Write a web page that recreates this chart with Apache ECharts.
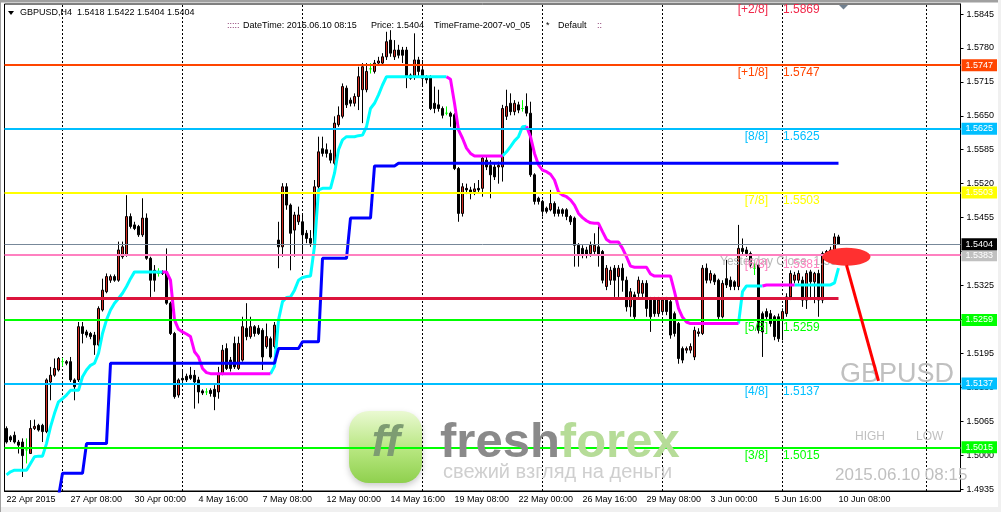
<!DOCTYPE html>
<html>
<head>
<meta charset="utf-8">
<title>GBPUSD,H4</title>
<script src="https://cdn.jsdelivr.net/npm/echarts@6/dist/echarts.min.js"></script>
<style>
  html, body { margin: 0; padding: 0; background: #fff; }
  #chart { width: 1001px; height: 512px; }
</style>
</head>
<body>
<div id="chart"></div>
<script>
// GBPUSD H4, 22 Apr 2015 - 10 Jun 2015
const timeLabels = ['22 Apr 2015', '27 Apr 08:00', '30 Apr 00:00', '4 May 16:00', '7 May 08:00', '12 May 00:00',
  '14 May 16:00', '19 May 08:00', '22 May 00:00', '26 May 16:00', '29 May 08:00', '3 Jun 00:00', '5 Jun 16:00', '10 Jun 08:00']
const labelEvery = 16
const slotCount = 239 // bars + empty chart shift on the right
const lastBar = 208

// open, close, low, high
const candles = [
  [1.5051, 1.5025, 1.5022, 1.5055], [1.5035, 1.5029, 1.5025, 1.5038], [1.5038, 1.5025, 1.5022, 1.5045], [1.5025, 1.5019, 1.5003, 1.5029],
  [1.5025, 1.4999, 1.4958, 1.5032], [1.5010, 1.5010, 1.4984, 1.5032], [1.5003, 1.5051, 1.5003, 1.5067], [1.5051, 1.5055, 1.5048, 1.5068],
  [1.5057, 1.5048, 1.5045, 1.5060], [1.5057, 1.5045, 1.5025, 1.5060], [1.5045, 1.5144, 1.5042, 1.5147], [1.5140, 1.5153, 1.5105, 1.5169],
  [1.5153, 1.5166, 1.5150, 1.5185], [1.5163, 1.5185, 1.5160, 1.5188], [1.5179, 1.5179, 1.5170, 1.5186], [1.5179, 1.5176, 1.5172, 1.5182],
  [1.5179, 1.5144, 1.5140, 1.5188], [1.5144, 1.5131, 1.5105, 1.5147], [1.5144, 1.5246, 1.5140, 1.5255], [1.5246, 1.5233, 1.5214, 1.5255],
  [1.5236, 1.5230, 1.5225, 1.5240], [1.5233, 1.5227, 1.5222, 1.5236], [1.5230, 1.5211, 1.5192, 1.5236], [1.5211, 1.5281, 1.5208, 1.5285],
  [1.5278, 1.5316, 1.5275, 1.5338], [1.5313, 1.5342, 1.5310, 1.5348], [1.5335, 1.5342, 1.5330, 1.5346], [1.5342, 1.5335, 1.5332, 1.5346],
  [1.5335, 1.5393, 1.5332, 1.5409], [1.5380, 1.5399, 1.5376, 1.5409], [1.5383, 1.5457, 1.5380, 1.5498], [1.5457, 1.5438, 1.5434, 1.5463],
  [1.5441, 1.5434, 1.5431, 1.5447], [1.5438, 1.5422, 1.5418, 1.5441], [1.5422, 1.5454, 1.5418, 1.5492], [1.5454, 1.5377, 1.5374, 1.5463],
  [1.5377, 1.5335, 1.5303, 1.5380], [1.5354, 1.5335, 1.5313, 1.5364], [1.5348, 1.5348, 1.5342, 1.5358], [1.5351, 1.5348, 1.5345, 1.5354],
  [1.5351, 1.5291, 1.5288, 1.5396], [1.5291, 1.5233, 1.5230, 1.5294], [1.5233, 1.5112, 1.5108, 1.5236], [1.5115, 1.5144, 1.5110, 1.5147],
  [1.5147, 1.5144, 1.5140, 1.5163], [1.5151, 1.5144, 1.5140, 1.5156], [1.5153, 1.5147, 1.5144, 1.5169], [1.5153, 1.5140, 1.5089, 1.5163],
  [1.5144, 1.5121, 1.5099, 1.5150], [1.5123, 1.5119, 1.5115, 1.5126], [1.5121, 1.5121, 1.5115, 1.5128], [1.5124, 1.5118, 1.5112, 1.5128],
  [1.5126, 1.5112, 1.5086, 1.5134], [1.5121, 1.5156, 1.5108, 1.5169], [1.5156, 1.5201, 1.5153, 1.5211], [1.5204, 1.5166, 1.5163, 1.5214],
  [1.5182, 1.5166, 1.5160, 1.5188], [1.5214, 1.5169, 1.5165, 1.5227], [1.5166, 1.5214, 1.5163, 1.5227], [1.5182, 1.5246, 1.5179, 1.5265],
  [1.5243, 1.5227, 1.5220, 1.5291], [1.5227, 1.5246, 1.5223, 1.5265], [1.5246, 1.5233, 1.5227, 1.5249], [1.5243, 1.5233, 1.5230, 1.5249],
  [1.5239, 1.5188, 1.5163, 1.5243], [1.5208, 1.5227, 1.5204, 1.5252], [1.5223, 1.5188, 1.5185, 1.5227], [1.5208, 1.5249, 1.5204, 1.5255],
  [1.5412, 1.5399, 1.5358, 1.5447], [1.5399, 1.5514, 1.5380, 1.5521], [1.5514, 1.5479, 1.5470, 1.5521], [1.5479, 1.5425, 1.5354, 1.5482],
  [1.5431, 1.5460, 1.5380, 1.5466], [1.5447, 1.5460, 1.5441, 1.5476], [1.5447, 1.5422, 1.5380, 1.5463], [1.5425, 1.5415, 1.5406, 1.5431],
  [1.5415, 1.5406, 1.5399, 1.5431], [1.5406, 1.5514, 1.5393, 1.5527], [1.5514, 1.5581, 1.5508, 1.5610], [1.5587, 1.5578, 1.5572, 1.5610],
  [1.5585, 1.5578, 1.5570, 1.5597], [1.5578, 1.5565, 1.5559, 1.5585], [1.5559, 1.5636, 1.5555, 1.5649], [1.5633, 1.5651, 1.5629, 1.5668],
  [1.5649, 1.5706, 1.5645, 1.5712], [1.5703, 1.5671, 1.5665, 1.5708], [1.5680, 1.5674, 1.5668, 1.5685], [1.5674, 1.5687, 1.5668, 1.5693],
  [1.5687, 1.5725, 1.5661, 1.5744], [1.5700, 1.5744, 1.5636, 1.5751], [1.5700, 1.5735, 1.5695, 1.5751], [1.5740, 1.5740, 1.5731, 1.5751],
  [1.5735, 1.5751, 1.5731, 1.5757], [1.5751, 1.5755, 1.5747, 1.5763], [1.5751, 1.5763, 1.5747, 1.5770], [1.5763, 1.5792, 1.5757, 1.5811],
  [1.5795, 1.5770, 1.5763, 1.5814], [1.5763, 1.5776, 1.5757, 1.5795], [1.5776, 1.5766, 1.5760, 1.5786], [1.5776, 1.5766, 1.5751, 1.5782],
  [1.5776, 1.5725, 1.5703, 1.5782], [1.5728, 1.5722, 1.5719, 1.5731], [1.5725, 1.5757, 1.5719, 1.5808], [1.5757, 1.5735, 1.5725, 1.5763],
  [1.5738, 1.5722, 1.5706, 1.5757], [1.5725, 1.5719, 1.5712, 1.5728], [1.5725, 1.5664, 1.5661, 1.5728], [1.5674, 1.5664, 1.5655, 1.5706],
  [1.5671, 1.5664, 1.5658, 1.5700], [1.5664, 1.5651, 1.5645, 1.5668], [1.5655, 1.5655, 1.5651, 1.5668], [1.5655, 1.5649, 1.5629, 1.5658],
  [1.5652, 1.5549, 1.5546, 1.5655], [1.5549, 1.5463, 1.5447, 1.5552], [1.5463, 1.5514, 1.5457, 1.5521], [1.5511, 1.5508, 1.5500, 1.5520],
  [1.5508, 1.5501, 1.5490, 1.5514], [1.5505, 1.5510, 1.5498, 1.5521], [1.5511, 1.5508, 1.5501, 1.5527], [1.5511, 1.5569, 1.5495, 1.5572],
  [1.5565, 1.5552, 1.5546, 1.5572], [1.5555, 1.5537, 1.5492, 1.5565], [1.5552, 1.5533, 1.5527, 1.5559], [1.5552, 1.5555, 1.5520, 1.5562],
  [1.5552, 1.5664, 1.5524, 1.5671], [1.5649, 1.5668, 1.5642, 1.5700], [1.5674, 1.5658, 1.5651, 1.5693], [1.5658, 1.5674, 1.5651, 1.5680],
  [1.5671, 1.5661, 1.5655, 1.5677], [1.5664, 1.5664, 1.5658, 1.5680], [1.5668, 1.5655, 1.5649, 1.5693], [1.5655, 1.5537, 1.5533, 1.5677],
  [1.5537, 1.5486, 1.5480, 1.5540], [1.5492, 1.5486, 1.5480, 1.5495], [1.5486, 1.5467, 1.5457, 1.5489], [1.5473, 1.5467, 1.5463, 1.5476],
  [1.5470, 1.5482, 1.5467, 1.5508], [1.5482, 1.5463, 1.5457, 1.5486], [1.5470, 1.5463, 1.5457, 1.5476], [1.5470, 1.5463, 1.5457, 1.5473],
  [1.5470, 1.5457, 1.5450, 1.5473], [1.5457, 1.5447, 1.5441, 1.5460], [1.5454, 1.5402, 1.5361, 1.5457], [1.5402, 1.5383, 1.5361, 1.5406],
  [1.5396, 1.5383, 1.5377, 1.5402], [1.5393, 1.5383, 1.5377, 1.5399], [1.5386, 1.5402, 1.5380, 1.5409], [1.5390, 1.5402, 1.5383, 1.5425],
  [1.5399, 1.5383, 1.5361, 1.5438], [1.5390, 1.5335, 1.5329, 1.5393], [1.5323, 1.5358, 1.5316, 1.5364], [1.5335, 1.5354, 1.5326, 1.5361],
  [1.5358, 1.5335, 1.5303, 1.5364], [1.5342, 1.5358, 1.5303, 1.5364], [1.5358, 1.5335, 1.5313, 1.5367], [1.5335, 1.5284, 1.5275, 1.5342],
  [1.5284, 1.5313, 1.5265, 1.5320], [1.5307, 1.5265, 1.5259, 1.5313], [1.5310, 1.5335, 1.5303, 1.5342], [1.5310, 1.5329, 1.5303, 1.5335],
  [1.5329, 1.5281, 1.5265, 1.5335], [1.5297, 1.5265, 1.5236, 1.5303], [1.5297, 1.5271, 1.5265, 1.5303], [1.5271, 1.5297, 1.5265, 1.5303],
  [1.5275, 1.5297, 1.5268, 1.5303], [1.5297, 1.5275, 1.5268, 1.5303], [1.5294, 1.5230, 1.5223, 1.5300], [1.5271, 1.5233, 1.5227, 1.5275],
  [1.5252, 1.5185, 1.5175, 1.5255], [1.5204, 1.5182, 1.5176, 1.5208], [1.5201, 1.5204, 1.5195, 1.5208], [1.5201, 1.5208, 1.5195, 1.5214],
  [1.5188, 1.5239, 1.5182, 1.5246], [1.5233, 1.5236, 1.5227, 1.5243], [1.5233, 1.5358, 1.5230, 1.5364], [1.5358, 1.5335, 1.5329, 1.5367],
  [1.5335, 1.5348, 1.5329, 1.5354], [1.5345, 1.5332, 1.5326, 1.5348], [1.5335, 1.5265, 1.5259, 1.5338], [1.5265, 1.5329, 1.5262, 1.5335],
  [1.5338, 1.5326, 1.5320, 1.5374], [1.5335, 1.5323, 1.5316, 1.5342], [1.5332, 1.5323, 1.5316, 1.5335], [1.5323, 1.5396, 1.5316, 1.5441],
  [1.5396, 1.5390, 1.5383, 1.5415], [1.5393, 1.5386, 1.5380, 1.5399], [1.5386, 1.5364, 1.5358, 1.5390], [1.5358, 1.5358, 1.5345, 1.5370],
  [1.5364, 1.5239, 1.5233, 1.5367], [1.5271, 1.5236, 1.5188, 1.5275], [1.5275, 1.5265, 1.5259, 1.5281], [1.5271, 1.5252, 1.5246, 1.5278],
  [1.5265, 1.5227, 1.5220, 1.5268], [1.5265, 1.5223, 1.5217, 1.5271], [1.5259, 1.5275, 1.5220, 1.5281], [1.5271, 1.5303, 1.5265, 1.5310],
  [1.5303, 1.5348, 1.5297, 1.5354], [1.5335, 1.5345, 1.5329, 1.5351], [1.5335, 1.5348, 1.5329, 1.5354], [1.5335, 1.5297, 1.5284, 1.5342],
  [1.5297, 1.5348, 1.5280, 1.5354], [1.5351, 1.5332, 1.5297, 1.5355], [1.5332, 1.5348, 1.5291, 1.5351], [1.5348, 1.5297, 1.5265, 1.5355],
  [1.5297, 1.5386, 1.5291, 1.5390], [1.5390, 1.5383, 1.5377, 1.5393], [1.5383, 1.5393, 1.5380, 1.5399], [1.5393, 1.5418, 1.5390, 1.5425],
  [1.5418, 1.5404, 1.5404, 1.5422]
]

// trailing stop: [first bar, values]
const upRuns = [
  [0, [1.4962, 1.4968, 1.4971, 1.4971, 1.4971, 1.4971, 1.4984, 1.4997, 1.4998, 1.4998, 1.5022, 1.5054, 1.5080, 1.5102,
    1.5108, 1.5115, 1.5124, 1.5124, 1.5124, 1.5150, 1.5163, 1.5172, 1.5176, 1.5195, 1.5233, 1.5259, 1.5278, 1.5291,
    1.5300, 1.5310, 1.5323, 1.5338, 1.5351, 1.5351, 1.5351, 1.5351, 1.5351, 1.5351, 1.5351, 1.5351]],
  [66, [1.5156, 1.5170, 1.5259, 1.5294, 1.5302, 1.5303, 1.5316, 1.5335, 1.5340, 1.5342, 1.5343, 1.5400, 1.5508, 1.5511,
    1.5511, 1.5511, 1.5540, 1.5585, 1.5604, 1.5610, 1.5610, 1.5610, 1.5612, 1.5613, 1.5629, 1.5664, 1.5674, 1.5690,
    1.5709, 1.5725, 1.5725, 1.5725, 1.5725, 1.5725, 1.5725, 1.5725, 1.5725, 1.5725, 1.5725, 1.5725, 1.5725, 1.5725,
    1.5725, 1.5725, 1.5725]],
  [124, [1.5573, 1.5581, 1.5591, 1.5602, 1.5610, 1.5629, 1.5630]],
  [183, [1.5252, 1.5313, 1.5324, 1.5324, 1.5324, 1.5324, 1.5324]],
  [197, [1.5326, 1.5326, 1.5326, 1.5326, 1.5326, 1.5326, 1.5326, 1.5326, 1.5326, 1.5326, 1.5330, 1.5358]]
]
const downRuns = [
  [39, [1.5351, 1.5351, 1.5335, 1.5259, 1.5241, 1.5236, 1.5232, 1.5227, 1.5198, 1.5188, 1.5166, 1.5158,
    1.5156, 1.5156, 1.5156, 1.5156, 1.5156, 1.5156, 1.5156, 1.5156, 1.5156, 1.5156, 1.5156, 1.5156, 1.5156,
    1.5156, 1.5156, 1.5156]],
  [110, [1.5725, 1.5720, 1.5674, 1.5623, 1.5607, 1.5588, 1.5578, 1.5573, 1.5573, 1.5573, 1.5573, 1.5573, 1.5573,
    1.5573, 1.5573]],
  [130, [1.5630, 1.5610, 1.5578, 1.5556, 1.5546, 1.5543, 1.5538, 1.5527, 1.5504, 1.5498, 1.5495, 1.5489, 1.5479,
    1.5463, 1.5455, 1.5449, 1.5445, 1.5444, 1.5444, 1.5428, 1.5413, 1.5408, 1.5408, 1.5408, 1.5396, 1.5380, 1.5362,
    1.5360, 1.5360, 1.5360, 1.5360, 1.5347, 1.5343, 1.5343, 1.5343, 1.5343, 1.5343, 1.5313, 1.5281, 1.5264, 1.5255,
    1.5252, 1.5252, 1.5252, 1.5252, 1.5252, 1.5252, 1.5252, 1.5252, 1.5252, 1.5252, 1.5252, 1.5252, 1.5252]],
  [189, [1.5324, 1.5326, 1.5326, 1.5326, 1.5326, 1.5326, 1.5326, 1.5326, 1.5326]]
]
// blue step line: [bar where level starts, level]
const blueSteps = [[13, 1.4920], [14, 1.4965], [20, 1.5022], [26, 1.5176], [68, 1.5204], [74, 1.5217],
  [79, 1.5377], [86, 1.5454], [92, 1.5554], [98, 1.5559]]

const yTicks = [1.4935, 1.5000, 1.5065, 1.5130, 1.5195, 1.5260, 1.5325, 1.5390, 1.5455, 1.5520, 1.5585, 1.5650, 1.5715, 1.5780, 1.5845]
const yMin = 1.49312
const yMax = 1.58642

const gridBars = [14, 44, 74, 104, 134, 164, 194, 230]
const levelPrices = [1.5869, 1.5747, 1.5625, 1.5503, 1.5381, 1.5259, 1.5137, 1.5015]
const levelTags = ['[+2/8]', '[+1/8]', '[8/8]', '[7/8]', '[6/8]', '[5/8]', '[4/8]', '[3/8]']
const bid = 1.5404
const yesterdayClose = 1.5383
const trendPrice = 1.5300

const levelColors = ['#f0284a', '#ff4500', '#00bfff', '#ffff00', '#ff80c0', '#00ff00', '#00bfff', '#00ff00']
const FONT = 'Liberation Sans'

function fromRuns(runs) {
  const out = new Array(lastBar + 1).fill(null)
  runs.forEach(([start, vals]) => {
    vals.forEach((v, k) => { out[start + k] = v })
  })
  return out
}

function fromSteps(steps) {
  const out = new Array(lastBar + 1).fill(null)
  steps.forEach(([start, v], k) => {
    const end = k + 1 < steps.length ? steps[k + 1][0] : lastBar + 1
    for (let i = start; i < end; i++) out[i] = v
  })
  return out
}

const slots = []
for (let i = 0; i < slotCount; i++) slots.push(i)
const showTick = i => i % labelEvery === 0 && i <= lastBar

const boxLabel = (p, bg) => ({
  show: true,
  position: 'end',
  distance: 1,
  formatter: p.toFixed(4),
  color: '#fff',
  backgroundColor: bg,
  padding: [1, 4, 1, 4],
  fontSize: 9,
  lineHeight: 10,
  fontFamily: FONT
})

const levelMarks = []
levelPrices.forEach((p, k) => {
  // +2/8 is above the window, 6/8 sits on the yesterday close line
  if (p > yMax || levelTags[k] === '[6/8]') return
  levelMarks.push({
    yAxis: p,
    lineStyle: { color: levelColors[k], width: 2, type: 'solid' },
    label: boxLabel(p, levelColors[k])
  })
})
levelMarks.push({ yAxis: yesterdayClose, lineStyle: { color: '#ff80c0', width: 2, type: 'solid' }, label: boxLabel(yesterdayClose, '#c0c0c0') })
levelMarks.push({ yAxis: bid, lineStyle: { color: '#778899', width: 1, type: 'solid' }, label: boxLabel(bid, '#000') })
levelMarks.push([
  { coord: [0, trendPrice], lineStyle: { color: '#dc143c', width: 3, type: 'solid' }, label: { show: false } },
  { coord: [lastBar, trendPrice] }
])

const chart = echarts.init(document.getElementById('chart'))

chart.setOption({
  animation: false,
  backgroundColor: '#fff',
  grid: {
    left: 4.5,
    top: 4,
    width: 956,
    height: 487,
    show: true,
    borderColor: '#000',
    borderWidth: 1,
    backgroundColor: 'transparent'
  },
  xAxis: {
    type: 'category',
    data: slots,
    boundaryGap: true,
    axisLine: { lineStyle: { color: '#000' } },
    axisTick: { alignWithLabel: true, interval: showTick, length: 3, lineStyle: { color: '#000' } },
    axisLabel: {
      interval: showTick,
      formatter: (v, idx) => (showTick(idx) ? timeLabels[idx / labelEvery] : ''),
      align: 'left',
      color: '#000',
      fontSize: 9,
      fontFamily: FONT,
      margin: 4
    },
    splitLine: { show: false }
  },
  yAxis: {
    type: 'value',
    position: 'right',
    min: yMin,
    max: yMax,
    scale: true,
    axisLine: { show: true, lineStyle: { color: '#000' } },
    axisTick: { show: true, length: 3, customValues: yTicks, lineStyle: { color: '#000' } },
    axisLabel: {
      customValues: yTicks,
      formatter: v => v.toFixed(4),
      color: '#000',
      fontSize: 9,
      fontFamily: FONT,
      margin: 6
    },
    splitLine: { show: false }
  },
  series: [
    {
      type: 'candlestick',
      data: candles,
      barWidth: 2,
      z: 3,
      silent: true,
      itemStyle: {
        color: '#d02a20',
        color0: '#000',
        borderColor: '#000',
        borderColor0: '#000',
        borderColorDoji: '#00ff00',
        borderWidth: 1
      },
      markLine: {
        silent: true,
        z: 2,
        symbol: ['none', 'none'],
        label: { show: false },
        lineStyle: { color: '#000', width: 1, type: [2, 2] },
        data: gridBars.map(i => ({ xAxis: i }))
      }
    },
    {
      type: 'line',
      data: fromRuns(upRuns),
      symbol: 'none',
      silent: true,
      z: 4,
      lineStyle: { color: '#00ffff', width: 3 }
    },
    {
      type: 'line',
      data: fromRuns(downRuns),
      symbol: 'none',
      silent: true,
      z: 4,
      lineStyle: { color: '#ff00ff', width: 3 }
    },
    {
      type: 'line',
      data: fromSteps(blueSteps),
      symbol: 'none',
      silent: true,
      z: 4,
      lineStyle: { color: '#0000ff', width: 3 },
      markLine: {
        silent: true,
        z: 5,
        precision: 5,
        symbol: ['none', 'none'],
        data: levelMarks
      }
    }
  ]
})

// texts and drawings placed on the chart scales
const px = (i, p) => chart.convertToPixel({ gridIndex: 0 }, [i, p])
const text = (x, y, str, color, size, extra) => ({
  type: 'text',
  x: x,
  y: y,
  z: 10,
  silent: true,
  style: Object.assign({
    text: str,
    fill: color,
    fontSize: size,
    fontFamily: FONT,
    align: 'left',
    verticalAlign: 'middle'
  }, extra || {})
})

const last = candles[lastBar]
const graphics = []

// logo watermark
graphics.push({
  type: 'rect', z: 1, silent: true,
  shape: { x: 349, y: 411, width: 73, height: 72, r: 20 },
  style: {
    fill: new echarts.graphic.LinearGradient(0, 0, 0, 1, [
      { offset: 0, color: '#eaf9d2' },
      { offset: 0.55, color: '#b6e67e' },
      { offset: 1, color: '#8fd04e' }
    ]),
    shadowBlur: 6,
    shadowOffsetY: 3,
    shadowColor: 'rgba(0,0,0,0.2)'
  }
})
graphics.push(text(386, 444, 'ff', '#7d9c72', 44, { z: 1, align: 'center', fontWeight: 'bold', fontStyle: 'italic' }))
graphics.push(text(440, 443, '{a|fresh}{b|forex}', '#8a8a8a', 49, {
  z: 1,
  rich: {
    a: { fill: '#8a8a8a', fontSize: 49, fontWeight: 'bold', fontFamily: FONT },
    b: { fill: '#b6dc98', fontSize: 49, fontWeight: 'bold', fontFamily: FONT }
  }
}))
graphics.push(text(443, 472, 'свежий взгляд на деньги', '#cfcfcf', 20, { z: 1 }))

// symbol watermark
graphics.push(text(840, 375, 'GBPUSD', '#c0c0c0', 27, { z: 1 }))
graphics.push(text(855, 437, 'HIGH', '#c0c0c0', 12, { z: 1 }))
graphics.push(text(916, 437, 'LOW', '#c0c0c0', 12, { z: 1 }))
graphics.push(text(835, 475, '2015.06.10 08:15', '#c0c0c0', 17, { z: 1 }))
graphics.push({ type: 'rect', z: 1, silent: true, shape: { x: 961, y: 466, width: 37, height: 18 }, style: { fill: '#fff' } })

// murrey level captions
levelPrices.forEach((p, k) => {
  const y = px(0, p)[1] + 8
  if (levelTags[k] === '[6/8]') {
    graphics.push(text(720, y - 3, 'Yesterday Close  ' + yesterdayClose.toFixed(4), '#b8b8b8', 12, { z: 9 }))
  }
  graphics.push(text(768, y, levelTags[k], levelColors[k], 12, { align: 'right' }))
  graphics.push(text(783, y, p.toFixed(4), levelColors[k], 12))
})

// header
graphics.push({ type: 'polygon', z: 10, silent: true, shape: { points: [[8, 11], [14, 11], [11, 15]] }, style: { fill: '#000' } })
graphics.push(text(20, 13, 'GBPUSD,H4  ' + [last[0], last[3], last[2], last[1]].map(v => v.toFixed(4)).join(' '), '#000', 9))
graphics.push(text(227, 25.5, ':::::', '#7a1f5c', 9))
graphics.push(text(243, 25.5, 'DateTime: 2015.06.10 08:15', '#000', 9))
graphics.push(text(371, 25.5, 'Price: ' + bid.toFixed(4), '#000', 9))
graphics.push(text(434, 25.5, 'TimeFrame-2007-v0_05', '#000', 9))
graphics.push(text(546, 25.5, '*', '#000', 9))
graphics.push(text(558, 25.5, 'Default', '#000', 9))
graphics.push(text(597, 25.5, '::', '#7a1f5c', 9))

// chart shift marker
graphics.push({ type: 'polygon', z: 10, silent: true, shape: { points: [[839, 5], [848, 5], [843.5, 9.5]] }, style: { fill: '#708090' } })

// red ellipse and arrow
const ec = px(210, 1.5380)
const a0 = px(210, 1.5364)
const a1 = px(218, 1.5142)
graphics.push({ type: 'ellipse', z: 10, silent: true, shape: { cx: ec[0], cy: ec[1], rx: 24, ry: 9 }, style: { fill: '#ff3030' } })
graphics.push({ type: 'line', z: 10, silent: true, shape: { x1: a0[0], y1: a0[1], x2: a1[0], y2: a1[1] }, style: { stroke: '#ff0000', lineWidth: 3 } })

// window frame
graphics.push({ type: 'rect', z: 20, silent: true, shape: { x: 0, y: 0, width: 1001, height: 2.5 }, style: { fill: '#a0a0a0' } })
graphics.push({ type: 'rect', z: 20, silent: true, shape: { x: 0, y: 507, width: 1001, height: 5 }, style: { fill: '#f0f0f0' } })
graphics.push({ type: 'rect', z: 20, silent: true, shape: { x: 998, y: 0, width: 3, height: 512 }, style: { fill: '#f0f0f0' } })
graphics.push({ type: 'rect', z: 20, silent: true, shape: { x: 0, y: 0, width: 1, height: 512 }, style: { fill: '#a0a0a0' } })

chart.setOption({ graphic: graphics })
</script>
</body>
</html>
